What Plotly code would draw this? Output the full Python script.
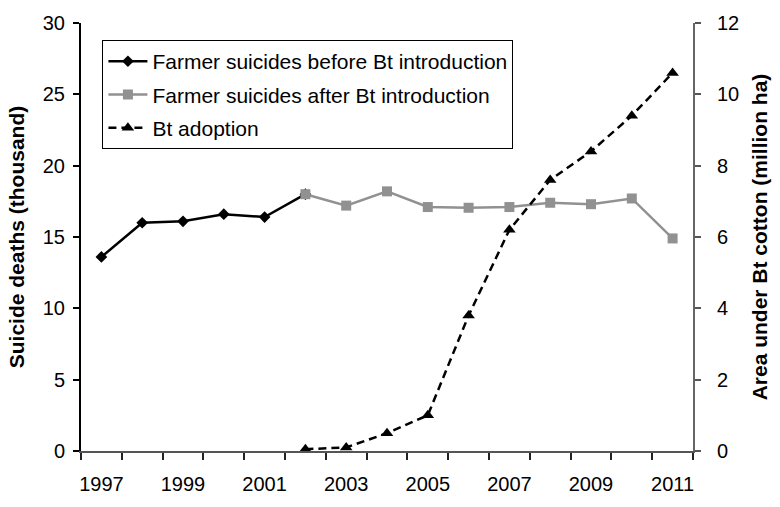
import plotly.graph_objects as go

# Farmer suicides in India (thousand) and area under Bt cotton (million ha)
years_before = [1997, 1998, 1999, 2000, 2001, 2002]
suicides_before = [13.6, 16.0, 16.1, 16.6, 16.4, 18.0]

years_after = [2002, 2003, 2004, 2005, 2006, 2007, 2008, 2009, 2010, 2011]
suicides_after = [18.0, 17.2, 18.2, 17.1, 17.05, 17.1, 17.4, 17.3, 17.7, 14.9]

years_bt = [2002, 2003, 2004, 2005, 2006, 2007, 2008, 2009, 2010, 2011]
bt_area = [0.05, 0.1, 0.5, 1.0, 3.8, 6.2, 7.6, 8.4, 9.4, 10.6]

year_labels = [1997, 1999, 2001, 2003, 2005, 2007, 2009, 2011]
left_ticks = [0, 5, 10, 15, 20, 25, 30]
right_ticks = [0, 2, 4, 6, 8, 10, 12]

FONT = "Liberation Sans, Arial, Helvetica, sans-serif"
GRAY = "#919191"

fig = go.Figure()

fig.add_trace(go.Scatter(
    x=years_before, y=suicides_before, mode="lines+markers",
    name="Farmer suicides before Bt introduction",
    line=dict(color="black", width=2.5),
    marker=dict(symbol="diamond", size=9, color="black"),
    legendgroup="before",
))
fig.add_trace(go.Scatter(
    x=years_after, y=suicides_after, mode="lines+markers",
    name="Farmer suicides after Bt introduction",
    line=dict(color=GRAY, width=2.5),
    marker=dict(symbol="square", size=10, color=GRAY),
    legendgroup="after",
))
fig.add_trace(go.Scatter(
    x=years_bt, y=bt_area, mode="lines+markers", yaxis="y2",
    name="Bt adoption",
    line=dict(color="black", width=2.5, dash="8px,5px"),
    marker=dict(symbol="triangle-up", size=11, color="black"),
    legendgroup="bt",
))

fig.update_layout(
    width=780, height=507,
    margin=dict(l=81, r=80, t=15, b=40),
    paper_bgcolor="white", plot_bgcolor="white",
    font=dict(family=FONT, size=20, color="black"),
    showlegend=True,
    legend=dict(
        x=0.035, y=0.96, xanchor="left", yanchor="top",
        bgcolor="white", bordercolor="black", borderwidth=1,
        font=dict(family=FONT, size=21, color="black"),
        itemwidth=39, tracegroupgap=3,
    ),
    xaxis=dict(
        range=[1996.5, 2011.5], tickvals=year_labels,
        ticks="", ticklabelstandoff=14,
        minor=dict(tick0=1996.5, dtick=1, ticks="outside", ticklen=7,
                   tickwidth=2, tickcolor="#222"),
        showline=True, linecolor="#555", linewidth=2,
        showgrid=False, zeroline=False,
        tickfont=dict(size=20),
    ),
    yaxis=dict(
        range=[0, 30], tickvals=left_ticks,
        ticks="outside", ticklen=6, tickwidth=2, tickcolor="black",
        ticklabelstandoff=4,
        showline=True, linecolor="black", linewidth=2,
        showgrid=False, zeroline=False,
        tickfont=dict(size=20),
        title=dict(text="<b>Suicide deaths (thousand)</b>", standoff=12,
                   font=dict(size=21)),
    ),
    yaxis2=dict(
        range=[0, 12], tickvals=right_ticks, overlaying="y", side="right",
        ticks="outside", ticklen=6, tickwidth=2, tickcolor="#555",
        ticklabelstandoff=12,
        showline=True, linecolor="#666", linewidth=2,
        showgrid=False, zeroline=False,
        tickfont=dict(size=20),
        title=dict(text="<b>Area under Bt cotton (million ha)</b>", standoff=14,
                   font=dict(size=21)),
    ),
)

fig.write_html("out.html")
